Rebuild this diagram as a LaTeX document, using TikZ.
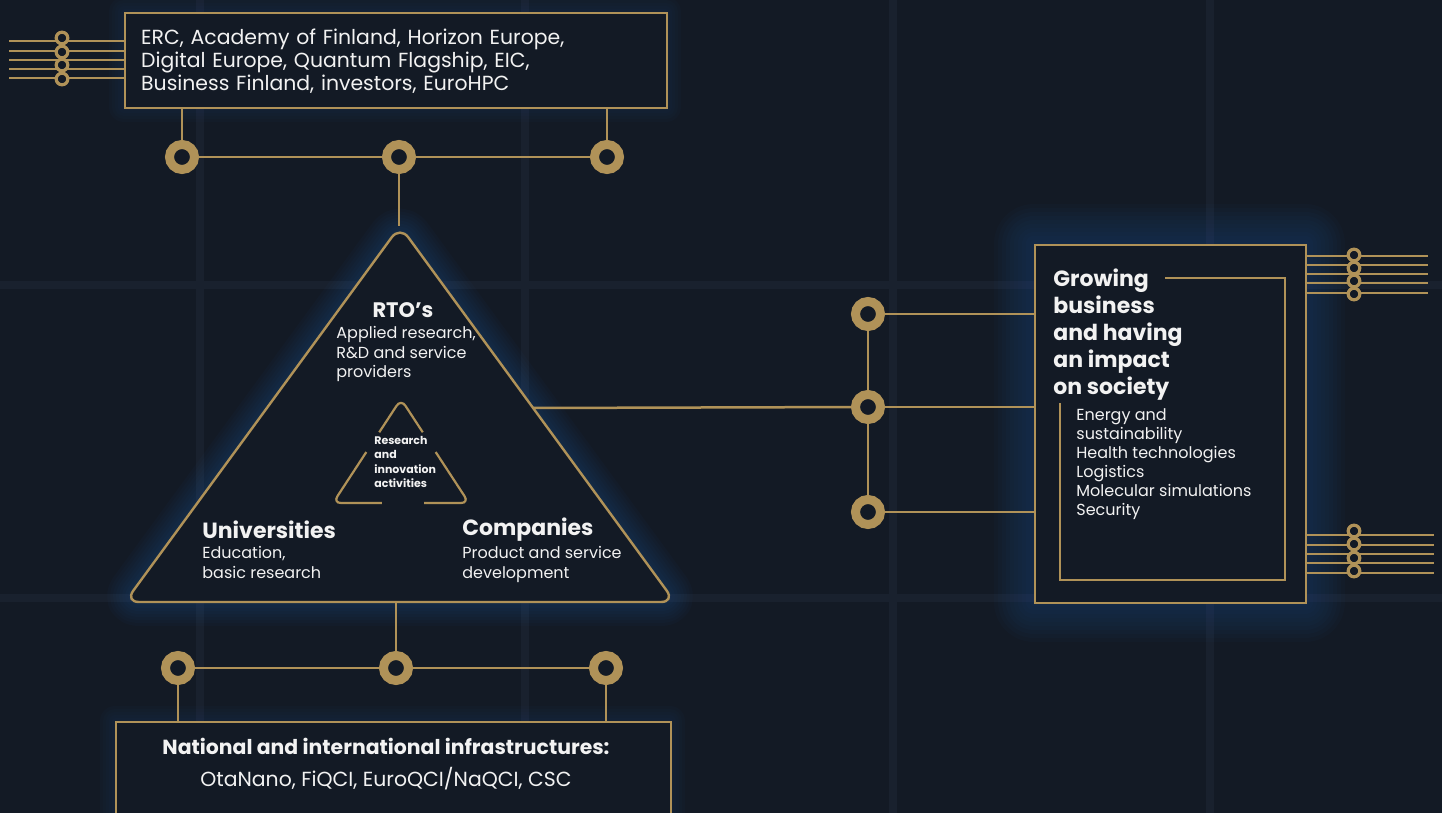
\documentclass[tikz,border=0pt]{standalone}
\usepackage{fontspec}
\setmainfont{Poppins}
\usetikzlibrary{calc}

\definecolor{bgnavy}{HTML}{131A25}
\definecolor{gridnavy}{HTML}{19212E}
\definecolor{gold}{HTML}{B09258}
\definecolor{glowblue}{HTML}{1C5CA6}
\definecolor{txtwhite}{HTML}{F2F2F2}

\begin{document}
\begin{tikzpicture}[x=0.5pt, y=-0.5pt,
    wire/.style={draw=gold, line width=1.25pt},
    pinwire/.style={draw=gold, line width=0.9pt},
    ring/.style={circle, draw=gold, fill=bgnavy, line width=4.5pt, minimum size=12.5pt, inner sep=0pt},
    pin/.style={circle, draw=gold, fill=bgnavy, line width=1.6pt, minimum size=5.8pt, inner sep=0pt},
    frame/.style={draw=gold, fill=bgnavy, line width=1.2pt},
    bodytxt/.style={text=txtwhite, inner sep=0pt, align=left},
    halo/.style={draw=glowblue, line join=round}]
    \useasboundingbox (0,0) rectangle (1442,813);
    \clip (0,0) rectangle (1442,813);

    % Background and faint grid
    \fill[bgnavy] (0,0) rectangle (1442,813);
    \foreach \gx in {200,525,893,1210}
        \draw[gridnavy, line width=4pt] (\gx,0) -- (\gx,813);
    \foreach \gy in {285,598}
        \draw[gridnavy, line width=4pt] (0,\gy) -- (1442,\gy);

    % Funding box
    \foreach \w in {3,6,...,15}
        \draw[halo, line width=\w pt, opacity=0.03] (124,12) rectangle (666,107);
    \node[frame, bodytxt, anchor=north west, text width=255pt, inner xsep=8pt,
          minimum height=47.5pt, font=\fontsize{10.2}{11.5}\selectfont] (fund) at (124,12)
        {ERC, Academy of Finland, Horizon Europe,\\Digital Europe, Quantum Flagship, EIC,\\Business Finland, investors, EuroHPC};
    \foreach \py in {41,51,60,69,78}
        \draw[pinwire] (9,\py) -- (fund.west |- 0,\py);
    \foreach \py [count=\i] in {38,52,65,79}
        \node[pin] (fp\i) at (62,\py) {};

    % Rings under funding box
    \node[ring] (t1) at (182,157) {};
    \node[ring] (t2) at (399,157) {};
    \node[ring] (t3) at (607,157) {};
    \draw[wire] (t1) -- (t2);
    \draw[wire] (t2) -- (t3);
    \draw[wire] (t1) -- (t1 |- fund.south);
    \draw[wire] (t3) -- (t3 |- fund.south);

    % Triangle
    \coordinate (ta) at (400,226);
    \coordinate (tl) at (125,602);
    \coordinate (tr) at (675,602);
    \coordinate (te) at (533,408);
    \coordinate (tb) at (398,602);
    \foreach \w in {3,6,...,24}
        \draw[halo, line width=\w pt, opacity=0.04, rounded corners=7pt] (ta) -- (tl) -- (tr) -- cycle;
    \draw[frame, rounded corners=7pt] (ta) -- (tl) -- (tr) -- cycle;
    \draw[wire] (t2) -- (t2 |- ta);

    % Inner cycle
    \coordinate (ia) at (401,399);
    \coordinate (ib) at (333,503);
    \coordinate (ic) at (469,503);
    \begin{scope}[wire, line width=1.1pt, rounded corners=4pt]
        \draw ($(ia)!0.32!(ib)$) -- (ia) -- ($(ia)!0.32!(ic)$);
        \draw ($(ib)!0.49!(ia)$) -- (ib) -- ($(ib)!0.36!(ic)$);
        \draw ($(ic)!0.49!(ia)$) -- (ic) -- ($(ic)!0.33!(ib)$);
    \end{scope}
    \node[bodytxt, anchor=north west, font=\bfseries\fontsize{5.5}{7.2}\selectfont] (rinno) at (374,436)
        {Research\\and\\innovation\\activities};

    % Actors
    \node[bodytxt, font=\bfseries\fontsize{10.5}{12}\selectfont] (rto) at (403,310) {RTO’s};
    \node[bodytxt, anchor=north west, font=\fontsize{8}{9.75}\selectfont] (rtodesc) at (336,326)
        {Applied research,\\R\&D and service\\providers};
    \node[bodytxt, anchor=west, font=\bfseries\fontsize{11}{13}\selectfont] (uni) at (202,530) {Universities};
    \node[bodytxt, anchor=north west, font=\fontsize{8}{10}\selectfont] (unidesc) at (202,546)
        {Education,\\basic research};
    \node[bodytxt, anchor=west, font=\bfseries\fontsize{11}{13}\selectfont] (comp) at (462,530) {Companies};
    \node[bodytxt, anchor=north west, font=\fontsize{8}{10}\selectfont] (compdesc) at (462,546)
        {Product and service\\development};

    % Infrastructure box
    \foreach \w in {3,6,...,15}
        \draw[halo, line width=\w pt, opacity=0.03] (115,721) rectangle (670,840);
    \node[frame, anchor=north west, minimum width=277.5pt, minimum height=59.5pt] (infra) at (115,721) {};
    \node[bodytxt, align=center, font=\fontsize{10.2}{16}\selectfont] (infratxt) at (386,764)
        {\textbf{National and international infrastructures:}\\OtaNano, FiQCI, EuroQCI/NaQCI, CSC};
    \node[ring] (b1) at (178,668) {};
    \node[ring] (b2) at (396,668) {};
    \node[ring] (b3) at (606,668) {};
    \draw[wire] (b1) -- (b2);
    \draw[wire] (b2) -- (b3);
    \draw[wire] (b2) -- (b2 |- tb);
    \draw[wire] (b1) -- (b1 |- infra.north);
    \draw[wire] (b3) -- (b3 |- infra.north);

    % Impact box
    \foreach \w in {4,8,...,40}
        \draw[halo, line width=\w pt, opacity=0.035] (1034,244) rectangle (1305,602);
    \node[frame, anchor=north west, minimum width=135.5pt, minimum height=179pt] (impact) at (1034,244) {};
    \node[bodytxt, anchor=north west, font=\bfseries\fontsize{11}{13.5}\selectfont] (grow) at (1053,268)
        {Growing\\business\\and having\\an impact\\on society};
    \node[bodytxt, anchor=north west, font=\fontsize{8}{9.5}\selectfont] (areas) at (1076,408)
        {Energy and\\sustainability\\Health technologies\\Logistics\\Molecular simulations\\Security};
    \draw[wire, line width=1.1pt] (1165,278) -- (1285,278) -- (1285,580) -- (1060,580) -- (1060,403);

    % Rings to impact box
    \node[ring] (m1) at (868,314) {};
    \node[ring] (m2) at (868,407) {};
    \node[ring] (m3) at (868,512) {};
    \draw[wire] (m1) -- (m2);
    \draw[wire] (m2) -- (m3);
    \draw[wire] (te) -- (m2);
    \draw[wire] (m1) -- (m1 -| impact.west);
    \draw[wire] (m2) -- (m2 -| impact.west);
    \draw[wire] (m3) -- (m3 -| impact.west);

    % Pins right of impact box
    \foreach \py in {256,265,274,283,293}
        \draw[pinwire] (impact.east |- 0,\py) -- (1428,\py);
    \foreach \py [count=\i] in {255,268,281,294}
        \node[pin] (ip\i) at (1354,\py) {};
    \foreach \py in {535,545,554,563,573}
        \draw[pinwire] (impact.east |- 0,\py) -- (1434,\py);
    \foreach \py [count=\i] in {531,544,558,571}
        \node[pin] (jp\i) at (1354,\py) {};
\end{tikzpicture}
\end{document}
